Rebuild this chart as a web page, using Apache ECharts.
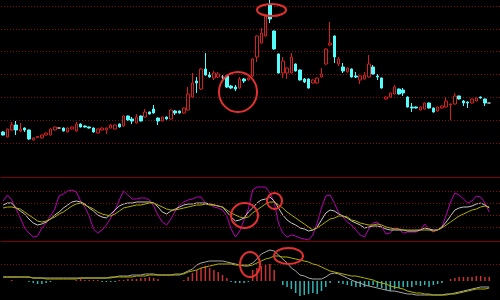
<!DOCTYPE html>
<html><head><meta charset="utf-8">
<script src="https://cdn.jsdelivr.net/npm/echarts@6/dist/echarts.min.js"></script>
<style>html,body{margin:0;padding:0;background:#000}#c{width:500px;height:300px}</style>
</head><body><div id="c"></div>
<script>
// categories (trading days; last two are empty padding slots)
const categories = Array.from({length:116},(_,i)=>'d'+(i+1));
// candles: [open, close, low, high] (price units)
const candles = [
[11,8,7.5,12],[6,14,5.5,14.5],[13,18,12.5,21],[18,13,8,22],[12,14,11,20],[15,13,11,15.5],[13,4,3,13.5],[3,5,2.5,5.5],[5.5,6.5,5,7],[5,8,4.5,8.5],
[8,10,7.5,10.5],[8,14,7.5,14.5],[13,16,12.5,16.5],[15,15,14.5,15.5],[15,12,11.5,15.5],[11,15,10.5,15.5],[14,16,13.5,16.5],[12,19,11.5,21],[19,16,15.5,19.5],[17,16,15.5,17.5],
[16,15,14.5,16.5],[15,11,10.5,15.5],[10,14,9.5,14.5],[13,15,12.5,15.5],[13,15,9,15.5],[15,18,14.5,19],[14,18,13.5,18.5],[19,16,15.5,19.5],[17,27,16,27.5],[27,23,22.5,27.5],
[24,22,19,26],[20,26,19.5,29],[27,22,21.5,27.5],[26,31,25.5,34],[31,29,28.5,31.5],[34,30,29.5,38],[25,22,18,25.5],[22,26,21.5,26.5],[26,24,23.5,26.5],[24,33,23.5,33.5],
[32,30,28,33],[32,30,29.5,32.5],[30,35,29.5,35.5],[33,49,32.5,56],[46,60,45.5,70],[62,60,50,66],[54,74,53,74.5],[74,68,67.5,90],[68,66,65.5,71],[65,70,63,72],
[66,69,65,71],[66,66,64,68],[67,56,55,67.5],[57,55,54,58],[56,54,52,58],[55,64,54.5,66],[64,62,60,65],[63,65,62.5,65.5],[67,84,66,85],[86,107,81,107.5],
[100,110,99.5,115],[107,128,106.5,128.5],[138,124,120,145],[112,94,93.5,112.5],[89,70,69.5,89.5],[70,82,65,86],[70,75,64,75.5],[70,86,69.5,90],[79,72,71.5,79.5],[73,63,62.5,73.5],
[64,61,60,65],[64,55,54.5,64.5],[60,63,59.5,63.5],[60,65,59.5,65.5],[66,69,65.5,75],[79,94,78,94.5],[98,100,97,121],[107,86,80,107.5],[79,84,77,86],[76,72,70,80],
[71,75,70.5,75.5],[74,66,65.5,74.5],[67,66,65,71],[63,67,59,67.5],[64,68,63.5,71],[66,79,65.5,88],[76,69,68.5,78],[67,66,63,69],[65,55,54.5,65.5],[44,46,43.5,46.5],
[46,50,45.5,50.5],[49,56,48.5,58],[54,49,48.5,54.5],[53,50,47,55],[46,36,35.5,46.5],[36,35,31,40],[36,35,34.5,36.5],[33,36,32.5,36.5],[34,40,33.5,40.5],[40,35,34.5,40.5],
[35,31,30.5,35.5],[32,36,31.5,36.5],[35,37,34.5,37.5],[36,42,35.5,46],[38,39,23,39.5],[39,47,38.5,50],[47,44,43.5,47.5],[42,40,37,43],[41,40,35,41.5],[40,44,39.5,44.5],
[42,45,41.5,45.5],[46,45,44.5,46.5],[44,40,37,44.5],[40,40,40,40]
];
// KDJ indicator
const kdjJ = [40,46,41,32,23,13,8,4,5,13,18,25,32,45,47,50,51,49,40,34,25,12,8,11,16,23,31,41,50,46,42,42,43,43,41,35,26,19,16,22,30,36,39,41,42,44,44,38,37,34,33,31,25,12,4,10,21,32,51,54,54,54,48,39,18,8,4,6,5,3,2,1,6,18,33,45,46,38,28,24,19,16,11,6,4,12,18,19,14,7,8,13,12,8,9,9,9,11,17,12,9,11,14,26,39,48,46,42,38,40,45,44,38,29];
const kdjK = [36,38,38,33,30,27,22,18,16,17,19,22,26,29,33,36,39,40,39,37,33,30,26,24,23,27,31,35,37,38,38,39,39,39,39,38,34,29,27,30,32,34,36,37,37,38,38,38,37,36,35,34,29,24,20,21,23,29,33,38,41,42,44,40,33,26,21,18,16,13,12,10,11,14,21,28,31,30,27,25,23,20,18,16,13,14,15,15,14,12,11,11,11,11,10,10,10,11,13,12,11,11,14,19,25,31,33,34,34,35,37,38,36,33];
const kdjD = [33,34,34,33,32,29,26,23,20,19,20,22,24,27,29,32,35,37,38,36,34,32,29,27,26,25,27,30,33,34,35,36,36,37,38,38,36,34,32,31,31,32,33,34,35,36,36,37,36,36,35,34,31,28,26,24,23,24,28,31,34,37,39,39,36,33,29,26,23,20,17,14,11,13,16,19,22,23,25,25,24,21,20,18,17,16,16,17,16,14,13,12,12,11,11,11,11,11,11,11,10,11,13,16,19,22,25,27,29,31,32,34,35,34];
// MACD indicator
const macdDif = [4,4,4,4,4,4,4,3,3,3,3,3,3,3,3,3,3,3,3,3,3,3,3,3,3,4,4,5,5,5,6,6,6,7,7,7,6,6,6,6,6,6,8,10,12,16,18,19,20,20,20,20,19,18,17,16,16,16,18,22,27,29,31,30,26,22,18,13,10,6,5,3,2,2,2,4,7,8,7,5,3,1,-1,-2,-4,-5,-6,-7,-8,-9,-10,-10,-11,-12,-13,-13,-14,-14,-14,-14,-14,-14,-14,-13,-13,-12,-11,-10,-9,-8,-7,-6,-6,-6];
const macdDea = [4,4,4,4,4,4,4,3,3,3,2,2,2,2,2,2,2,2,3,3,3,3,3,3,3,3,4,4,4,4,4,5,5,5,6,6,6,6,6,6,7,7,7,9,10,11,13,14,15,16,17,17,17,17,16,16,15,15,16,18,20,22,23,25,25,24,24,23,22,21,20,19,17,16,14,12,10,9,8,7,6,5,5,4,3,2,1,-1,-2,-3,-5,-6,-7,-8,-10,-11,-12,-12,-13,-13,-14,-14,-14,-14,-13,-13,-12,-11,-10,-9,-8,-8,-8,-7];
const macdHist = [0,0,1,0,0,0,-1,-2,-3,-3,-2,-1,0,0,0,0,0,1,2,1,1,1,1,-1,-1,-1,-1,1,1,2,2,2,3,3,4,3,2,0,0,0,0,0,1,4,8,11,13,15,13,11,9,6,3,-1,-2,-2,-2,-1,11,13,15,16,17,11,0,-4,-6,-8,-12,-15,-14,-13,-12,-13,-10,-6,-2,0,-2,-3,-4,-5,-6,-6,-6,-5,-4,-6,-7,-9,-10,-8,-7,-6,-6,-6,-4,-5,-4,-6,-4,-3,-2,0,2,3,4,4,4,4,5,5,4,4];
// reference levels
const kdjLevels = [50,38,26,14];
const macdLevels = [17];
const topLabel = '23.40';

const chart = echarts.init(document.getElementById('c'), null, {renderer:'canvas'});
const dotted = {color:'#8a0c0c', type:[1,2], width:1};
const solid = {color:'#7a0000', width:1};
const hideAxis = {axisLine:{show:false}, axisTick:{show:false}, axisLabel:{show:false}, splitLine:{show:false}};
const G = {left:1, width:499};
chart.setOption({
  backgroundColor:'#000',
  animation:false,
  grid:[
    Object.assign({top:6, height:137}, G),
    Object.assign({top:177, height:64}, G),
    Object.assign({top:241, height:59}, G)
  ],
  xAxis:[
    Object.assign({type:'category', gridIndex:0, data:categories}, hideAxis),
    Object.assign({type:'category', gridIndex:1, data:categories}, hideAxis, {axisLine:{show:true, onZero:false, lineStyle:solid}}),
    Object.assign({type:'category', gridIndex:1, data:categories, position:'top'}, hideAxis, {axisLine:{show:true, onZero:false, lineStyle:solid}}),
    Object.assign({type:'category', gridIndex:2, data:categories}, hideAxis)
  ],
  yAxis:[
    Object.assign({type:'value', gridIndex:0, min:0, max:137, interval:137/6}, hideAxis, {splitLine:{show:true, lineStyle:dotted}}),
    Object.assign({type:'value', gridIndex:1, min:0, max:64}, hideAxis),
    Object.assign({type:'value', gridIndex:2, min:-19, max:40}, hideAxis)
  ],
  series:[
    {type:'candlestick', xAxisIndex:0, yAxisIndex:0, data:candles, barWidth:3, clip:false,
     itemStyle:{color:'#000', color0:'#54fcfc', borderColor:'#d02222', borderColor0:'#54fcfc', borderColorDoji:'#bbbbbb', borderWidth:1}},
    {type:'line', xAxisIndex:1, yAxisIndex:1, data:kdjJ, symbol:'none', lineStyle:{color:'#b800b8', width:1}, z:3,
     markLine:{silent:true, symbol:'none', label:{show:false}, lineStyle:dotted, data:kdjLevels.map(v=>({yAxis:v}))}},
    {type:'line', xAxisIndex:1, yAxisIndex:1, data:kdjK, symbol:'none', lineStyle:{color:'#c8c8c8', width:1}, z:4},
    {type:'line', xAxisIndex:1, yAxisIndex:1, data:kdjD, symbol:'none', lineStyle:{color:'#b0b000', width:1}, z:5},
    {type:'bar', xAxisIndex:3, yAxisIndex:2, data:macdHist, barWidth:1.5,
     itemStyle:{color:p=>p.value>=0?'#c83232':'#36b4b4'},
     markLine:{silent:true, symbol:'none', label:{show:false}, lineStyle:dotted, data:macdLevels.map(v=>({yAxis:v}))}},
    {type:'line', xAxisIndex:3, yAxisIndex:2, data:macdDif, symbol:'none', lineStyle:{color:'#a8a8a8', width:1}, z:4},
    {type:'line', xAxisIndex:3, yAxisIndex:2, data:macdDea, symbol:'none', lineStyle:{color:'#b0b000', width:1}, z:5}
  ],
  graphic:[
    {type:'text', left:279, top:-7, z:10, style:{text:topLabel, fill:'#c0c0c0', font:'9px "DejaVu Sans"'}},
    {type:'ellipse', z:20, shape:{cx:271.5, cy:10, rx:14.5, ry:6}, style:{fill:null, stroke:'#e43030', lineWidth:2}},
    {type:'ellipse', z:20, shape:{cx:238, cy:92, rx:19, ry:20}, style:{fill:null, stroke:'#e43030', lineWidth:2}},
    {type:'ellipse', z:20, shape:{cx:244.5, cy:215.5, rx:13.5, ry:12.5}, style:{fill:null, stroke:'#e43030', lineWidth:2}},
    {type:'ellipse', z:20, shape:{cx:274.5, cy:201, rx:7.5, ry:8}, style:{fill:null, stroke:'#e43030', lineWidth:2}},
    {type:'ellipse', z:20, shape:{cx:250, cy:264.5, rx:10, ry:12.5}, style:{fill:null, stroke:'#e43030', lineWidth:2}},
    {type:'ellipse', z:20, shape:{cx:288.5, cy:256, rx:14.5, ry:8}, style:{fill:null, stroke:'#e43030', lineWidth:2}}
  ]
});
</script></body></html>
